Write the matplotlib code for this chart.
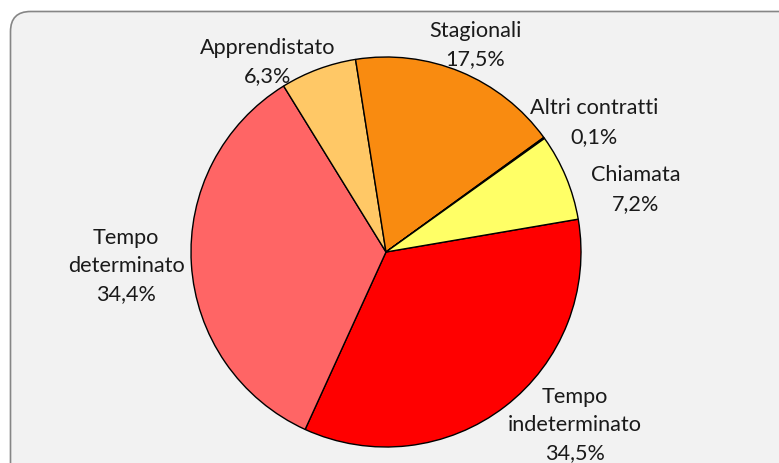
import numpy as np
import matplotlib
matplotlib.use("Agg")
import matplotlib.pyplot as plt
from matplotlib.patches import FancyBboxPatch
from matplotlib.transforms import IdentityTransform

# data
labels = ["Tempo\nindeterminato", "Tempo\ndeterminato", "Apprendistato",
          "Stagionali", "Altri contratti", "Chiamata"]
values = [34.5, 34.4, 6.3, 17.5, 0.1, 7.2]
colors = ["#FF0000", "#FF6565", "#FFC866", "#F98B10", "#D07010", "#FFFF66"]

# label placement (radius factor, angle shift in degrees)
lab_r = [1.31, 1.335, 1.153, 1.16, 1.26, 1.323]
lab_shift = [10.1, -0.7, 11.4, -0.8, -3.7, -8.4]

plt.rcParams['font.family'] = ['Lato', 'DejaVu Sans']

fig = plt.figure(figsize=(7.79, 4.64), dpi=100)
fig.patch.set_facecolor("white")

# rounded chart frame
frame = FancyBboxPatch((10.5, -40), 820, 464 - 12 + 40 - 0.5,
                       boxstyle="round,pad=0,rounding_size=20",
                       transform=IdentityTransform(), zorder=-5,
                       facecolor="#F2F2F2", edgecolor="#868686", linewidth=1.2)
fig.patches.append(frame)

ax = fig.add_axes([0, 0, 1, 1])
ax.set_zorder(2)
ax.set_facecolor("none")
R = 195.0
cx, cy = 386.0, 464 - 253.0

wedges, _ = ax.pie(values, colors=colors, startangle=9.7, counterclock=False,
                   radius=1.0, wedgeprops=dict(edgecolor="black", linewidth=1.0))
ax.set_xlim(-cx / R, (779 - cx) / R)
ax.set_ylim(-cy / R, (464 - cy) / R)
ax.set_aspect("auto")
ax.axis("off")

for w, lab, v, rf, sh in zip(wedges, labels, values, lab_r, lab_shift):
    mid = (w.theta1 + w.theta2) / 2 + sh
    x = rf * np.cos(np.radians(mid))
    y = rf * np.sin(np.radians(mid))
    txt = lab + "\n" + f"{v:.1f}%".replace(".", ",")
    ax.text(x, y, txt, ha="center", va="center", fontsize=15.6,
            color="#1a1a1a", linespacing=1.52)

fig.savefig("out.png", dpi=100)
